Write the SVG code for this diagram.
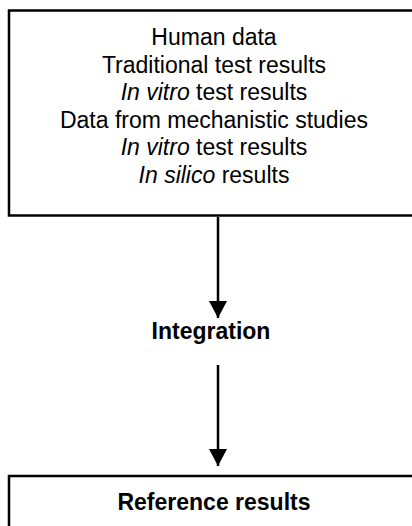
<svg xmlns="http://www.w3.org/2000/svg" width="412" height="526" viewBox="0 0 412 526">
  <style>
    .box { fill: #ffffff; stroke: #000000; stroke-width: 2.5; }
    .t { font-family: "Liberation Sans", Arial, sans-serif; font-size: 23px; fill: #000000; text-anchor: middle; }
    .b { font-weight: bold; }
    .conn { stroke: #000000; stroke-width: 2.5; fill: none; }
  </style>
  <defs>
    <marker id="ah" markerUnits="userSpaceOnUse" markerWidth="18" markerHeight="19" refX="17" refY="9" orient="auto">
      <path d="M0,0 L17,9 L0,18 Z" fill="#000000"/>
    </marker>
  </defs>
  <rect width="412" height="526" fill="#ffffff"/>
  <g id="sources">
    <rect class="box" x="9" y="10.5" width="412" height="205"/>
    <text class="t" x="214" y="45">Human data</text>
    <text class="t" x="214" y="72.6">Traditional test results</text>
    <text class="t" x="214" y="100.2"><tspan font-style="italic">In vitro</tspan> test results</text>
    <text class="t" x="214" y="127.8">Data from mechanistic studies</text>
    <text class="t" x="214" y="155.4"><tspan font-style="italic">In vitro</tspan> test results</text>
    <text class="t" x="214" y="183"><tspan font-style="italic">In silico</tspan> results</text>
  </g>
  <g id="integration">
    <text class="t b" x="211" y="339">Integration</text>
  </g>
  <g id="reference">
    <rect class="box" x="9" y="476" width="412" height="60"/>
    <text class="t b" x="214" y="510">Reference results</text>
  </g>
  <g id="connectors">
    <line class="conn" x1="218" y1="217" x2="218" y2="318" marker-end="url(#ah)"/>
    <line class="conn" x1="218" y1="365" x2="218" y2="466" marker-end="url(#ah)"/>
  </g>
</svg>
